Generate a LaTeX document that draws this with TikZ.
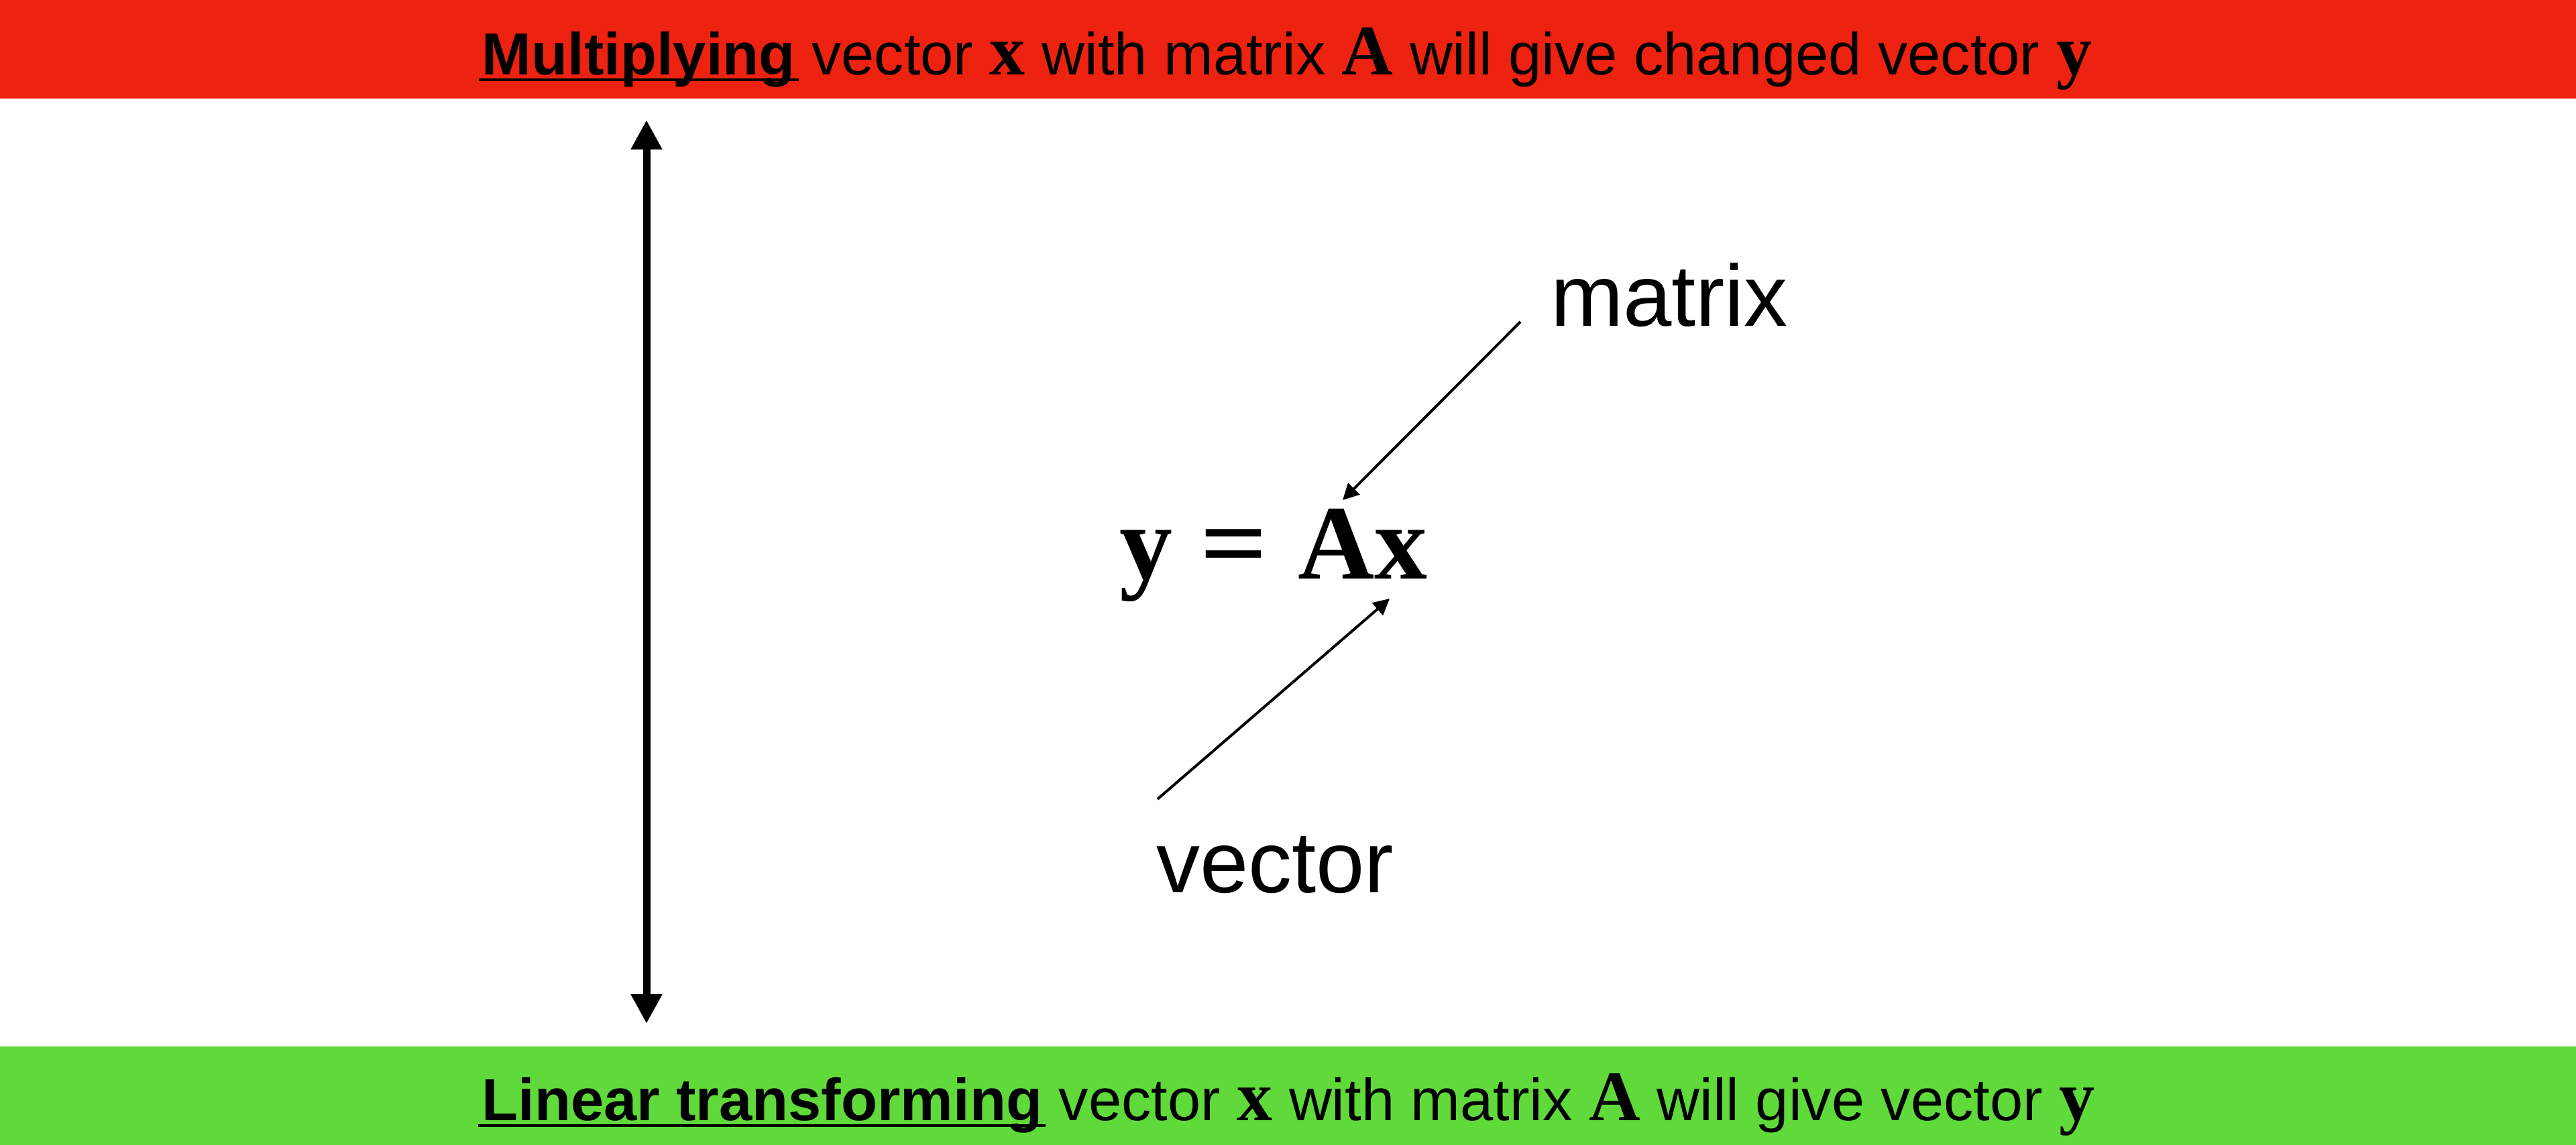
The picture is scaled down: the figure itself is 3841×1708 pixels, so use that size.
\RequirePackage{fix-cm}
\documentclass[tikz,border=0pt]{standalone}
\usepackage[no-math]{fontspec}
\setmainfont{Liberation Sans}
\newfontfamily\tnr{Liberation Serif}
\usetikzlibrary{arrows.meta}
\definecolor{barred}{RGB}{237,34,16}
\definecolor{bargreen}{RGB}{96,218,58}
\newcommand\bmv[1]{{\fontsize{10.6}{12}\tnr\bfseries #1}}
\newcommand\myul[1]{\setbox0=\hbox{#1}\rlap{\kern-0.5pt\rule[-0.9pt]{\dimexpr\wd0+1pt\relax}{0.35pt}}\box0\relax}
\begin{document}
\begin{tikzpicture}[x=0.1pt,y=-0.1pt,
  barbox/.style={inner sep=0pt, outer sep=0pt, minimum width=384.1pt, minimum height=14.7pt, anchor=north west},
  bartext/.style={anchor=base, inner sep=0pt, font=\fontsize{8.85}{10}\selectfont},
  lbltext/.style={anchor=base west, inner sep=0pt, font=\fontsize{13}{15}\selectfont},
  eqtext/.style={anchor=base west, inner sep=0pt, font=\fontsize{15.8}{18}\tnr\bfseries},
  thinarrow/.style={line width=0.4pt, -{Triangle[length=2.4pt,width=2.4pt]}},
  thickarrow/.style={line width=1.1pt, {Triangle[length=4.4pt,width=4.4pt]}-{Triangle[length=4.4pt,width=4.4pt]}}]
\useasboundingbox (0,0) rectangle (3841,1708);
\node[barbox, fill=barred] (topbar) at (0,0) {};
\node[barbox, fill=bargreen] (botbar) at (0,1561) {};
\node[bartext] (toptext) at (1919,112) {\myul{\textbf{Multiplying}} vector \bmv{x} with matrix \bmv{A} will give changed vector \bmv{y}};
\node[bartext] (bottext) at (1921,1672) {\myul{\textbf{Linear transforming}} vector \bmv{x} with matrix \bmv{A} will give vector \bmv{y}};
\coordinate (uptip) at (964,179);
\coordinate (downtip) at (964,1527);
\draw[thickarrow] (uptip) -- (downtip);
\node[eqtext] (eq) at (1667,864) {y\kern4.1pt\scalebox{1.12}[1]{=}\kern4.6pt Ax};
\node[lbltext] (matrix) at (2310,487) {matrix};
\node[lbltext] (vector) at (1722,1332) {vector};
\coordinate (mtail) at (2267,480);
\coordinate (mtip) at (2002,746);
\coordinate (vtail) at (1726,1192);
\coordinate (vtip) at (2072,893);
\draw[thinarrow] (mtail) -- (mtip);
\draw[thinarrow] (vtail) -- (vtip);
\end{tikzpicture}
\end{document}
